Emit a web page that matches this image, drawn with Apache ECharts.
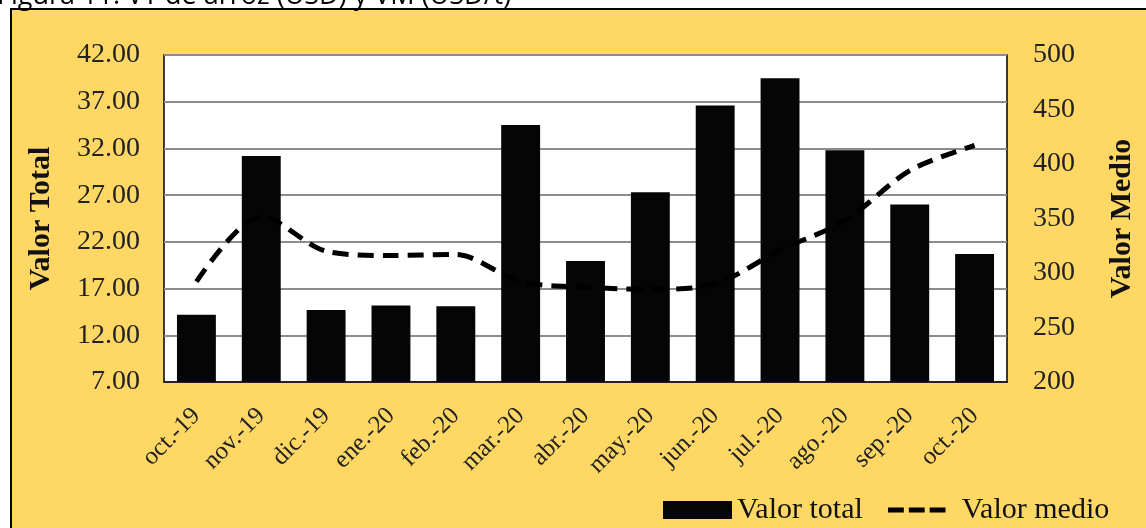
<!DOCTYPE html>
<html>
<head>
<meta charset="utf-8">
<script src="https://cdn.jsdelivr.net/npm/echarts@6/dist/echarts.min.js"></script>
<style>
  html, body { margin: 0; padding: 0; background: #fff; }
  #chart { width: 1146px; height: 528px; }
</style>
</head>
<body>
<div id="chart"></div>
<script>
// months
var categories = ['oct.-19', 'nov.-19', 'dic.-19', 'ene.-20', 'feb.-20', 'mar.-20', 'abr.-20',
                  'may.-20', 'jun.-20', 'jul.-20', 'ago.-20', 'sep.-20', 'oct.-20'];
// Valor total (left axis)
var valorTotal = [14.2, 31.2, 14.7, 15.2, 15.1, 34.5, 19.95, 27.3, 36.6, 39.5, 31.8, 26.0, 20.7];
// Valor medio (right axis)
var valorMedio = [292, 352, 320, 316, 317, 292, 287, 285, 290, 321, 348, 394, 417];

var leftTicks = { min: 7, max: 42, interval: 5 };
var rightTicks = { min: 200, max: 500, interval: 50 };

var serif = 'Liberation Serif';
var chart = echarts.init(document.getElementById('chart'));

// three short dashes for the "Valor medio" legend key
var dashIcon = 'path://M0,0h19v6h-19z M25,0h19v6h-19z M50,0h19v6h-19z';

var options = {
    animation: false,
    backgroundColor: '#fff',
    graphic: [
        {
            type: 'rect',
            z: -10,
            shape: { x: 11, y: 9, width: 1200, height: 600 },
            style: { fill: '#FED764', stroke: '#000', lineWidth: 2 }
        },
        {
            // title, cut off at the top of the picture
            type: 'text',
            left: -3,
            top: -17,
            style: {
                text: 'Figura 11. VT de arroz (USD) y VM (USD/t)',
                font: '27px "Open Sans"',
                fill: '#000'
            }
        }
    ],
    grid: {
        left: 164,
        right: 139,
        top: 55,
        bottom: 146,
        show: true,
        backgroundColor: '#fff',
        borderColor: '#000',
        borderWidth: 1.5
    },
    legend: [
        {
            left: 658,
            top: 490,
            itemWidth: 69,
            itemHeight: 18,
            data: [{ name: 'Valor total', icon: 'rect' }],
            textStyle: { fontFamily: serif, fontSize: 30, color: '#111' }
        },
        {
            left: 883,
            top: 490,
            itemWidth: 68,
            itemHeight: 5,
            data: [{ name: 'Valor medio', icon: dashIcon }],
            textStyle: { fontFamily: serif, fontSize: 30, color: '#111', padding: [0, 0, 0, 6] }
        }
    ],
    xAxis: {
        type: 'category',
        data: categories,
        axisLine: { lineStyle: { color: '#000', width: 1.5 } },
        axisTick: { show: false },
        axisLabel: {
            rotate: 45,
            margin: 30,
            fontFamily: serif,
            fontSize: 25,
            color: '#222'
        }
    },
    yAxis: [
        {
            type: 'value',
            min: leftTicks.min,
            max: leftTicks.max,
            interval: leftTicks.interval,
            name: 'Valor Total',
            nameLocation: 'middle',
            nameGap: 108,
            nameTextStyle: { fontFamily: serif, fontSize: 30, fontWeight: 'bold', color: '#111' },
            axisLine: { show: false },
            axisTick: { show: false },
            axisLabel: {
                margin: 24,
                fontFamily: serif,
                fontSize: 28,
                color: '#222',
                formatter: function (v) { return v.toFixed(2); }
            },
            splitLine: { lineStyle: { color: '#8c8c8c', width: 2 } }
        },
        {
            type: 'value',
            min: rightTicks.min,
            max: rightTicks.max,
            interval: rightTicks.interval,
            name: 'Valor Medio',
            nameLocation: 'middle',
            nameGap: 100,
            nameRotate: 90,
            nameTextStyle: { fontFamily: serif, fontSize: 30, fontWeight: 'bold', color: '#111' },
            axisLine: { show: false },
            axisTick: { show: false },
            axisLabel: {
                margin: 26,
                fontFamily: serif,
                fontSize: 28,
                color: '#222'
            },
            splitLine: { show: false }
        }
    ],
    series: [
        {
            name: 'Valor total',
            type: 'bar',
            data: valorTotal,
            barWidth: '60%',
            itemStyle: { color: '#050505' }
        },
        {
            name: 'Valor medio',
            type: 'line',
            yAxisIndex: 1,
            data: valorMedio,
            smooth: 0.3,
            symbol: 'none',
            itemStyle: { color: '#000' },
            lineStyle: { color: '#000', width: 5, type: [16, 9], cap: 'butt' }
        }
    ]
};

chart.setOption(options);
</script>
</body>
</html>
